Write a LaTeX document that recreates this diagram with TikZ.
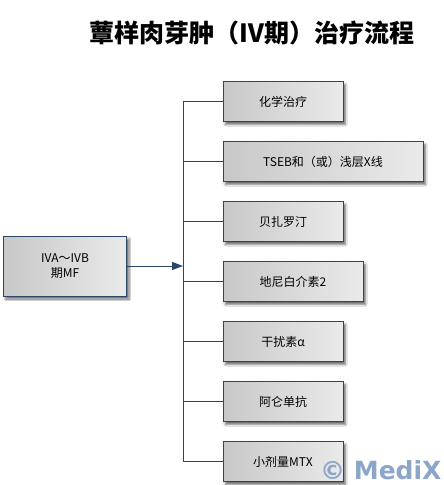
\documentclass[tikz,border=0pt]{standalone}
\usepackage{fontspec}
\newfontfamily\cjk{Noto Sans CJK SC}
\newfontfamily\wmfont{DejaVu Sans}
\usetikzlibrary{shadows,shadows.blur,arrows.meta}
\definecolor{navy}{HTML}{2B4566}
\definecolor{boxL}{HTML}{C8C8C8}
\definecolor{boxR}{HTML}{EAEAEA}
\definecolor{wm}{HTML}{8CA6CA}
\tikzset{
  tbox/.style={draw=navy, line width=0.9pt, left color=boxL, right color=boxR,
    blur shadow={shadow xshift=2.5pt, shadow yshift=-3pt, shadow blur steps=6, shadow opacity=55},
    minimum height=40pt, inner sep=0pt, font=\cjk\fontsize{12}{15}\selectfont, text=black, align=center},
  link/.style={draw=navy, line width=1pt},
}
\begin{document}
\begin{tikzpicture}[x=1pt,y=-1pt]
\useasboundingbox (0,0) rectangle (444,485);
\fill[white] (0,0) rectangle (444,485);
\node (title) at (252,33) {\cjk\bfseries\fontsize{25}{29}\selectfont 蕈样肉芽肿（Ⅳ期）治疗流程};
\node[tbox, minimum width=123pt, minimum height=60pt] (src) at (65,266) {IVA～IVB\\期MF};
\node[tbox, minimum width=120pt] (b1) at (283,101.5) {化学治疗};
\node[tbox, minimum width=200pt] (b2) at (323,161.5) {TSEB和（或）浅层X线};
\node[tbox, minimum width=120pt] (b3) at (283,221.5) {贝扎罗汀};
\node[tbox, minimum width=140pt] (b4) at (293,281.5) {地尼白介素2};
\node[tbox, minimum width=120pt] (b5) at (283,341.5) {干扰素α};
\node[tbox, minimum width=120pt] (b6) at (283,401.5) {阿仑单抗};
\node[tbox, minimum width=120pt] (b7) at (283,461.5) {小剂量MTX};
\coordinate (bt) at (183,101.5);
\coordinate (bb) at (183,461.5);
\draw[link] (bt) -- (bb);
\foreach \b in {b1,b2,b3,b4,b5,b6,b7}{
  \draw[link] (\b.west) -- (\b.west -| bt);
}
\coordinate (hit) at (src.east -| bt);
\draw[link, -{Triangle[length=11pt,width=8pt]}] (src.east) -- (hit);
\node[text=wm, font=\wmfont\bfseries\fontsize{25}{29}\selectfont, anchor=west, inner sep=0pt] (wmk) at (320,470) {© MediX};
\end{tikzpicture}
\end{document}
